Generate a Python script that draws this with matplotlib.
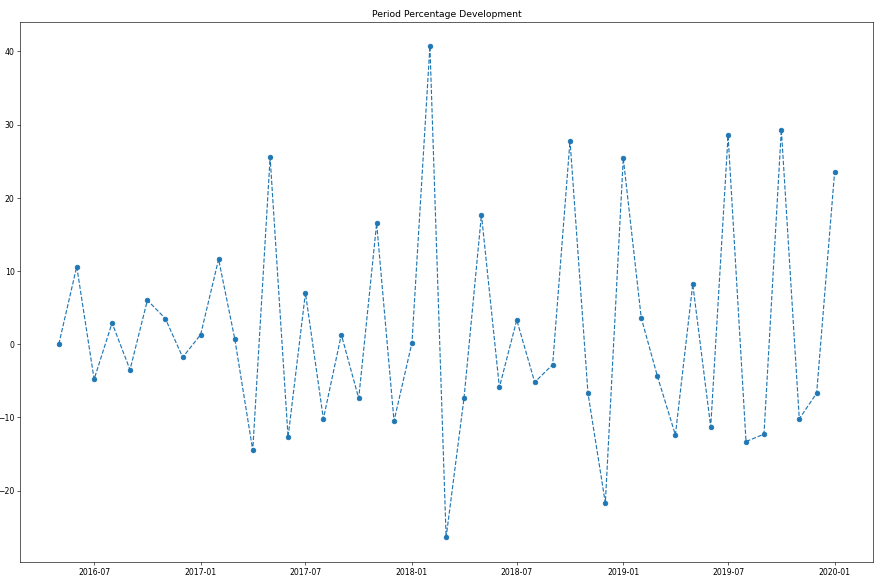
import numpy as np
import pandas as pd
import matplotlib
matplotlib.use("Agg")
import matplotlib.pyplot as plt
import matplotlib.dates as mdates

# monthly period-over-period change
months = pd.date_range("2016-05-01", "2020-01-01", freq="MS")
pct_change = [
    0.0, 10.6, -4.8, 2.9, -3.5, 6.0, 3.5, -1.8, 1.3, 11.6,
    0.7, -14.5, 25.5, -12.7, 7.0, -10.2, 1.3, -7.4, 16.5, -10.5,
    0.2, 40.7, -26.4, -7.3, 17.7, -5.9, 3.3, -5.2, -2.8, 27.8,
    -6.7, -21.7, 25.4, 3.6, -4.4, -12.4, 8.2, -11.3, 28.5, -13.3,
    -12.3, 29.3, -10.2, -6.7, 23.5,
]
title = "Period Percentage Development"

dpi = 55.5
fig = plt.figure(figsize=(893.4 / dpi, 584.4 / dpi), dpi=dpi)
ax = fig.add_axes([20 / 893, 1 - 562 / 584, 853 / 893, 540 / 584])

ax.plot(months, pct_change, linestyle="--", marker="o")
ax.set_title(title)

ax.xaxis.set_major_locator(mdates.MonthLocator(bymonth=[1, 7]))
ax.xaxis.set_major_formatter(mdates.DateFormatter("%Y-%m"))

fig.savefig("out.png", dpi=dpi)
